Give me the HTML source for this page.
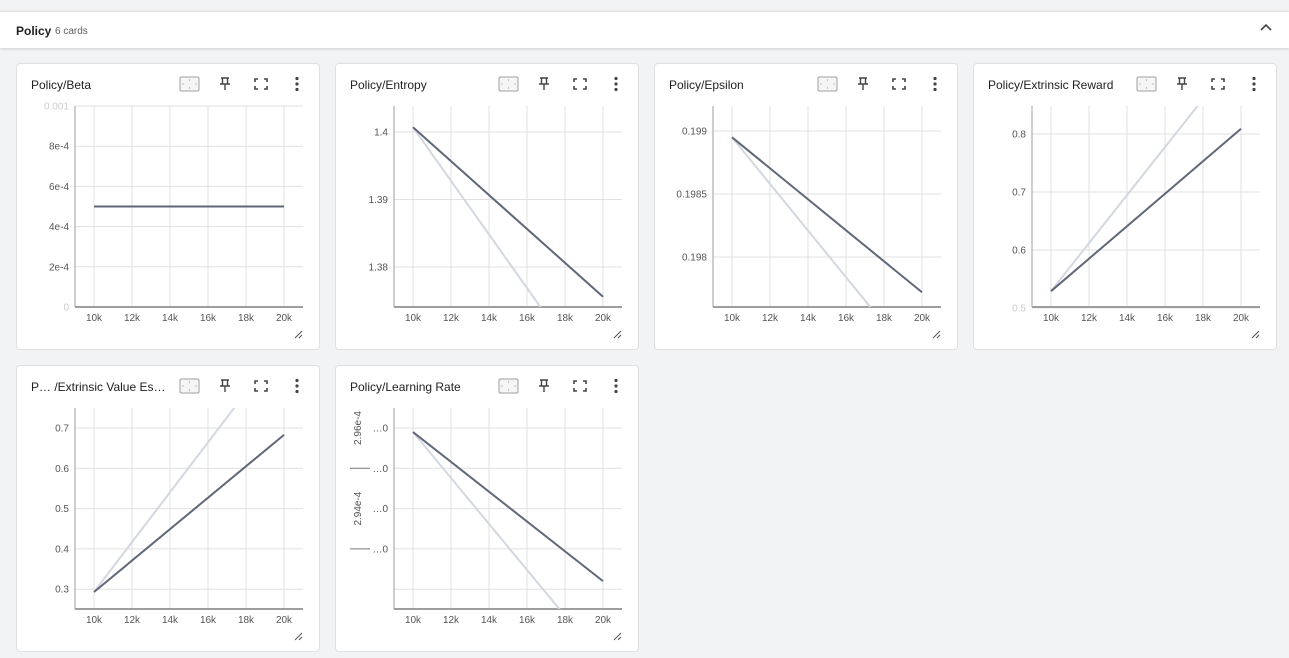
<!DOCTYPE html>
<html><head><meta charset="utf-8">
<style>
body{margin:0;width:1289px;height:658px;background:#f1f3f4;font-family:"Liberation Sans",Arial,sans-serif;overflow:hidden;position:relative}
.hdr{position:absolute;left:0;top:11px;width:1289px;height:36px;background:#fff;border-top:1px solid #e3e3e3;box-shadow:0 1px 3px rgba(0,0,0,.15)}
.hdr .t{position:absolute;left:16px;top:12px;font-size:12px;font-weight:bold;color:#212121}
.hdr .c{position:absolute;left:55px;top:14px;font-size:10px;color:#616161}
.hdr .chev{position:absolute;left:1259px;top:10px}
.card{position:absolute;width:302px;height:285px;background:#fff;border:1px solid #e0e0e0;border-radius:4px}
svg text{font-family:"Liberation Sans",Arial,sans-serif}
</style></head><body>
<div class="hdr">
<span class="t">Policy</span>
<span class="c">6 cards</span>
<svg class="chev" width="14" height="10"><polyline points="2,8 7,3 12,8" fill="none" stroke="#444" stroke-width="1.6"/></svg>
</div>
<div id="root"></div>
<script>
// Card 1 Beta
const betaSteps=[10000,20000];const betaSmoothed=[5e-4,5e-4];const betaRaw=[5e-4,5e-4];
const betaTicks=[0,2e-4,4e-4,6e-4,8e-4,1e-3];const betaTickLabels=["0","2e-4","4e-4","6e-4","8e-4","0.001"];
// Card 2 Entropy
const entSteps=[10000,20000];const entSmoothed=[1.4007,1.3756];const entRaw=[1.4007,1.361];
const entTicks=[1.38,1.39,1.4];const entTickLabels=["1.38","1.39","1.4"];
// Card 3 Epsilon
const epsSteps=[10000,20000];const epsSmoothed=[0.19895,0.19772];const epsRaw=[0.19895,0.1971];
const epsTicks=[0.198,0.1985,0.199];const epsTickLabels=["0.198","0.1985","0.199"];
// Card 4 Extrinsic Reward
const rewSteps=[10000,20000];const rewSmoothed=[0.529,0.809];const rewRaw=[0.529,0.943];
const rewTicks=[0.5,0.6,0.7,0.8];const rewTickLabels=["0.5","0.6","0.7","0.8"];
// Card 5 Extrinsic Value Estimate
const valSteps=[10000,20000];const valSmoothed=[0.293,0.683];const valRaw=[0.293,0.912];
const valTicks=[0.3,0.4,0.5,0.6,0.7];const valTickLabels=["0.3","0.4","0.5","0.6","0.7"];
// Card 6 Learning Rate (units of 1e-4)
const lrSteps=[10000,20000];const lrSmoothed=[2.9608,2.9534];const lrRaw=[2.9608,2.9494];
const lrTicks=[2.953,2.955,2.957,2.959,2.961];const lrTickLabels=["","…0","…0","…0","…0"];
const xTicks=[10000,12000,14000,16000,18000,20000];const xTickLabels=["10k","12k","14k","16k","18k","20k"];

const NS="http://www.w3.org/2000/svg";
function mk(tag,attrs,parent){const e=document.createElementNS(NS,tag);for(const k in attrs)e.setAttribute(k,attrs[k]);if(parent)parent.appendChild(e);return e;}
const PL=59,PR=287,PT=43,PB=244;
function xs(v){return 78+(v-10000)*190/10000;}
const cards=[
 {title:"Policy/Beta",left:16,top:63,steps:betaSteps,sm:betaSmoothed,raw:betaRaw,ticks:betaTicks,labels:betaTickLabels,ymin:0,ymax:1e-3},
 {title:"Policy/Entropy",left:335,top:63,steps:entSteps,sm:entSmoothed,raw:entRaw,ticks:entTicks,labels:entTickLabels,ymin:1.4-(244-69)/6750,ymax:1.4+26/6750},
 {title:"Policy/Epsilon",left:654,top:63,steps:epsSteps,sm:epsSmoothed,raw:epsRaw,ticks:epsTicks,labels:epsTickLabels,ymin:0.199-(244-68)/126000,ymax:0.199+25/126000},
 {title:"Policy/Extrinsic Reward",left:973,top:63,steps:rewSteps,sm:rewSmoothed,raw:rewRaw,ticks:rewTicks,labels:rewTickLabels,ymin:0.8-(244-71)/580,ymax:0.8+28/580},
 {title:"P… /Extrinsic Value Es…",left:16,top:365,steps:valSteps,sm:valSmoothed,raw:valRaw,ticks:valTicks,labels:valTickLabels,ymin:0.7-(244-63)/403,ymax:0.7+20/403},
 {title:"Policy/Learning Rate",left:335,top:365,steps:lrSteps,sm:lrSmoothed,raw:lrRaw,ticks:lrTicks,labels:lrTickLabels,ymin:2.961-(244-63)/20150,ymax:2.961+20/20150,lr:true}
];
const root=document.getElementById('root');
cards.forEach((c,i)=>{
 const d=document.createElement('div');d.className='card';d.style.left=c.left+'px';d.style.top=c.top+'px';
 
 
 root.appendChild(d);
 const s=mk('svg',{width:302,height:285,style:'position:absolute;left:-1px;top:-1px'},d);
 const ys=v=>PB-(v-c.ymin)/(c.ymax-c.ymin)*(PB-PT);
 const t=mk('text',{x:15,y:26,'font-size':12,fill:'#212121'},s);t.textContent=c.title;
 
 
 const g1=mk('g',{},s);
 mk('rect',{x:164,y:14,width:19,height:14,rx:1.5,fill:'#f5f5f5',stroke:'#9e9e9e','stroke-width':1},g1);
 [[173.5,17],[173.5,25],[167,21],[180,21]].forEach(p=>mk('circle',{cx:p[0],cy:p[1],r:0.6,fill:'#999'},g1));
 const g2=mk('g',{},s);
 mk('path',{d:'M205 15h8M206.5 15v6M211.5 15v6M204 21h10M209 21v6',stroke:'#444','stroke-width':1.4,fill:'none'},g2);
 const g3=mk('g',{},s);
 mk('path',{d:'M239 19v-3h3M248 16h3v3M251 23v3h-3M242 26h-3v-3',stroke:'#444','stroke-width':1.6,fill:'none'},g3);
 const g4=mk('g',{},s);
 [15.5,21,26.5].forEach(y=>mk('circle',{cx:281,cy:y,r:1.6,fill:'#444'},g4));
 xTicks.forEach((v,k)=>{mk('line',{x1:xs(v),x2:xs(v),y1:PT,y2:PB,stroke:'#e0e0e0'},s);
  const l=mk('text',{x:xs(v),y:PB+14,'font-size':10,fill:'#555','text-anchor':'middle'},s);l.textContent=xTickLabels[k];
  });
 c.ticks.forEach((v,k)=>{const y=ys(v);if(y<PT-3)return;mk('line',{x1:PL,x2:PR,y1:y,y2:y,stroke:'#e0e0e0'},s);
  const l=mk('text',{x:53,y:y+3.5,'font-size':10,fill:(y<PT+2||y>PB-2)?'#ccc':'#555','text-anchor':'end'},s);l.textContent=c.labels[k];
  });
 if(c.lr){[["2.96e-4",ys(2.961)],["2.94e-4",ys(2.957)]].forEach(p=>{const l=mk('text',{x:0,y:0,'font-size':10,fill:'#555','text-anchor':'middle',transform:`translate(26,${p[1]}) rotate(-90)`},s);l.textContent=p[0];
  });
  [ys(2.959),ys(2.955)].forEach(y=>mk('line',{x1:15,x2:35,y1:y,y2:y,stroke:'#777'},s));}
 mk('line',{x1:PL,x2:PL,y1:PT,y2:PB,stroke:'#9e9e9e'},s);
 mk('line',{x1:PL,x2:PR,y1:PB,y2:PB,stroke:'#9e9e9e','stroke-width':2},s);
 const cid='clip'+i;const cp=mk('clipPath',{id:cid},mk('defs',{},s));mk('rect',{x:PL,y:PT,width:PR-PL,height:PB-PT},cp);
 const pts=a=>c.steps.map((st,k)=>xs(st)+','+ys(a[k])).join(' ');
 const r=mk('polyline',{points:pts(c.raw),fill:'none',stroke:'#d3d7e0','stroke-width':2,'clip-path':`url(#${cid})`},s);
 
 const m=mk('polyline',{points:pts(c.sm),fill:'none',stroke:'#5f6778','stroke-width':2,'clip-path':`url(#${cid})`},s);
 
 const rz=mk('path',{d:'M279 275l7-7M283 275l3-3',stroke:'#555','stroke-width':1},s);
 
});
</script>
</body></html>
